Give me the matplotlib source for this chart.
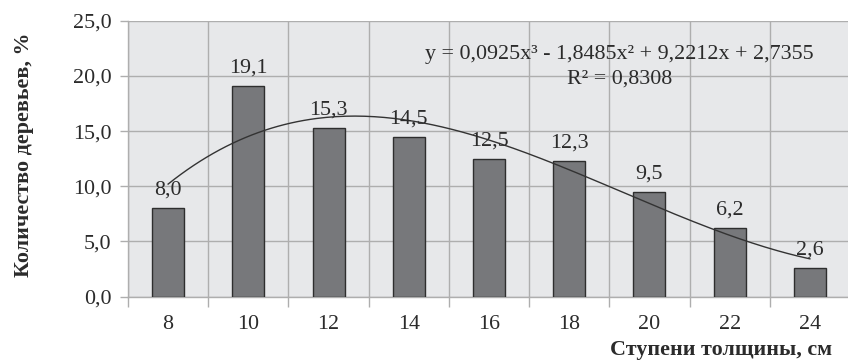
import matplotlib.pyplot as plt
import numpy as np
from matplotlib.ticker import FixedLocator, FuncFormatter

# Distribution of trees by thickness class
classes = ["8", "10", "12", "14", "16", "18", "20", "22", "24"]
shares = [8.0, 19.1, 15.3, 14.5, 12.5, 12.3, 9.5, 6.2, 2.6]

# Cubic trend (x = class index 1..9), highest power first
trend_coef = [0.0925, -1.8485, 9.2212, 2.7355]
trend_r2 = 0.8308

TEXT = "#2b2b2b"
GRID = "#aeaeae"

plt.rcParams["font.family"] = ["Liberation Serif", "DejaVu Serif"]
plt.rcParams["font.size"] = 15.8
plt.rcParams["text.color"] = TEXT
plt.rcParams["xtick.color"] = GRID
plt.rcParams["ytick.color"] = GRID
plt.rcParams["xtick.labelcolor"] = TEXT
plt.rcParams["ytick.labelcolor"] = TEXT


def fmt(v, digits=1):
    return f"{v:.{digits}f}".replace(".", ",")


fig = plt.figure(figsize=(8.48, 3.61), dpi=100)
ax = fig.add_axes([128 / 848, (361 - 296.7) / 361, 722 / 848, 276 / 361])
ax.set_facecolor("#e7e8ea")

x = np.arange(1, len(classes) + 1)
ax.bar(x, shares, width=0.4, color="#77787b", edgecolor="#2e2e2e",
       linewidth=1.0, zorder=3)

for xi, v in zip(x, shares):
    ax.annotate(fmt(v), (xi, v), xytext=(0, 6),
                textcoords="offset points", ha="center", va="bottom",
                color=TEXT, zorder=5)

xs = np.linspace(1, len(classes), 200)
ax.plot(xs, np.polyval(trend_coef, xs), color="#333333", lw=1.0, zorder=4)

eq = "y = {}x³ - {}x² + {}x + {}".format(
    fmt(trend_coef[0], 4), fmt(-trend_coef[1], 4),
    fmt(trend_coef[2], 4), fmt(trend_coef[3], 4))
ax.text(6.63, 21.95, eq, ha="center", va="center", zorder=5)
ax.text(6.63, 19.7, "R² = " + fmt(trend_r2, 4), ha="center", va="center", zorder=5)

ax.set_xlim(0.5, len(classes) + 0.5)
ax.set_ylim(0, 25)
ax.set_yticks(np.arange(0, 26, 5))
ax.yaxis.set_major_formatter(FuncFormatter(lambda v, _: fmt(v)))
ax.set_xticks(x)
ax.set_xticklabels(classes)
ax.xaxis.set_minor_locator(FixedLocator(np.arange(0.5, len(classes) + 1, 1)))
ax.tick_params(axis="x", which="major", length=0, pad=13)
ax.tick_params(axis="x", which="minor", length=7, width=1.0, direction="out")
ax.tick_params(axis="y", length=6, width=1.0, pad=6)

ax.grid(True, axis="y", which="major", color=GRID, lw=1.0, zorder=0)
ax.grid(True, axis="x", which="minor", color=GRID, lw=1.0, zorder=0)
for side in ("top", "right"):
    ax.spines[side].set_visible(False)
for side in ("left", "bottom"):
    ax.spines[side].set_color(GRID)
    ax.spines[side].set_linewidth(1.0)

fig.text(24 / 848, 1 - 155 / 361, "Количество деревьев, %", rotation=90,
         ha="center", va="center", fontweight="bold")
fig.text(832 / 848, 1 - 350 / 361, "Ступени толщины, см",
         ha="right", va="center", fontweight="bold")

fig.savefig("out.png", dpi=100, facecolor="white")
